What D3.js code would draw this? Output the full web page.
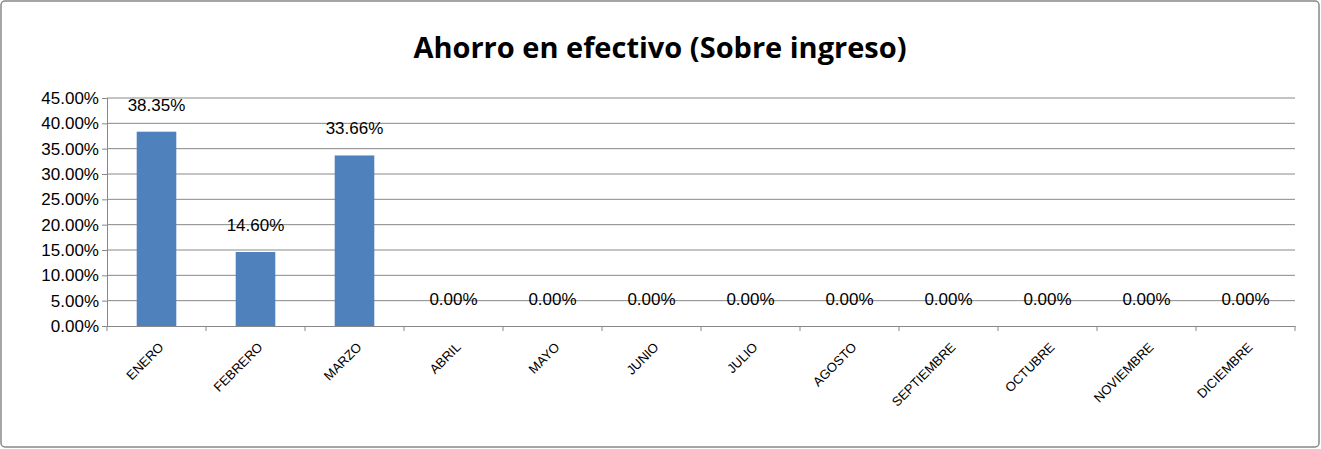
<!DOCTYPE html>
<html><head><meta charset="utf-8">
<script src="https://cdn.jsdelivr.net/npm/d3@7"></script>
<style>body{margin:0;background:#fff}</style>
</head><body>
<svg id="chart" width="1321" height="449"></svg>
<script>
var months = ["ENERO","FEBRERO","MARZO","ABRIL","MAYO","JUNIO","JULIO","AGOSTO","SEPTIEMBRE","OCTUBRE","NOVIEMBRE","DICIEMBRE"];
var ahorro = [0.3835, 0.1460, 0.3366, 0, 0, 0, 0, 0, 0, 0, 0, 0];
var yTicks = [0, 0.05, 0.10, 0.15, 0.20, 0.25, 0.30, 0.35, 0.40, 0.45];

var svg = d3.select("#chart");
var plotLeft = 107, plotRight = 1295, plotTop = 98, plotBottom = 326;

svg.append("rect").attr("x", 1).attr("y", 1).attr("width", 1318).attr("height", 446)
  .attr("rx", 4).attr("fill", "#fff").attr("stroke", "#888").attr("stroke-width", 1.5);

svg.append("text").attr("x", 660).attr("y", 58).attr("text-anchor", "middle")
  .style("font-family", "'Open Sans', Calibri, sans-serif").style("font-weight", "bold")
  .style("font-size", "29px").text("Ahorro en efectivo (Sobre ingreso)");

var x = d3.scaleBand().domain(months).range([plotLeft, plotRight]).paddingInner(0.6).paddingOuter(0.3);
var xs = d3.scaleBand().domain(months).range([plotLeft, plotRight]);
var y = d3.scaleLinear().domain([0, 0.45]).range([plotBottom, plotTop]);

// grid
svg.append("g").selectAll("line").data(yTicks.slice(1)).enter().append("line")
  .attr("x1", plotLeft).attr("x2", plotRight).attr("y1", d => y(d)).attr("y2", d => y(d))
  .attr("stroke", "#888").attr("stroke-width", 1);

var yAxis = svg.append("g").attr("transform", "translate(" + plotLeft + ",0)")
  .call(d3.axisLeft(y).tickValues(yTicks).tickFormat(d3.format(".2%")).tickSize(5));
yAxis.selectAll("text").style("font-family", "Arial, 'Liberation Sans', sans-serif").style("font-size", "17px").attr("fill", "#000");
yAxis.selectAll("line,path").attr("stroke", "#888");

var xAxis = svg.append("g").attr("transform", "translate(0," + plotBottom + ")")
  .call(d3.axisBottom(xs).tickSize(0).tickFormat(""));
xAxis.selectAll("path").attr("stroke", "#888");
svg.append("g").selectAll("line").data(months.concat(["end"])).enter().append("line")
  .attr("x1", (d, i) => plotLeft + i * xs.step()).attr("x2", (d, i) => plotLeft + i * xs.step())
  .attr("y1", plotBottom).attr("y2", plotBottom + 5).attr("stroke", "#888");

svg.append("g").selectAll("text").data(months).enter().append("text")
  .attr("transform", d => "translate(" + (xs(d) + xs.bandwidth() / 2 + 8) + "," + (plotBottom + 22) + ") rotate(-45)")
  .attr("text-anchor", "end")
  .style("font-family", "Arial, 'Liberation Sans', sans-serif").style("font-size", "13px")
  .text(d => d);

svg.append("g").selectAll("rect").data(ahorro).enter().append("rect")
  .attr("x", (d, i) => x(months[i])).attr("width", x.bandwidth())
  .attr("y", d => y(d)).attr("height", d => plotBottom - y(d)).attr("fill", "#4f81bd");

svg.append("g").selectAll("text").data(ahorro).enter().append("text")
  .attr("x", (d, i) => x(months[i]) + x.bandwidth() / 2).attr("y", d => y(d) - 21)
  .attr("text-anchor", "middle")
  .style("font-family", "Arial, 'Liberation Sans', sans-serif").style("font-size", "17px")
  .text(d => d3.format(".2%")(d));
</script>
</body></html>
